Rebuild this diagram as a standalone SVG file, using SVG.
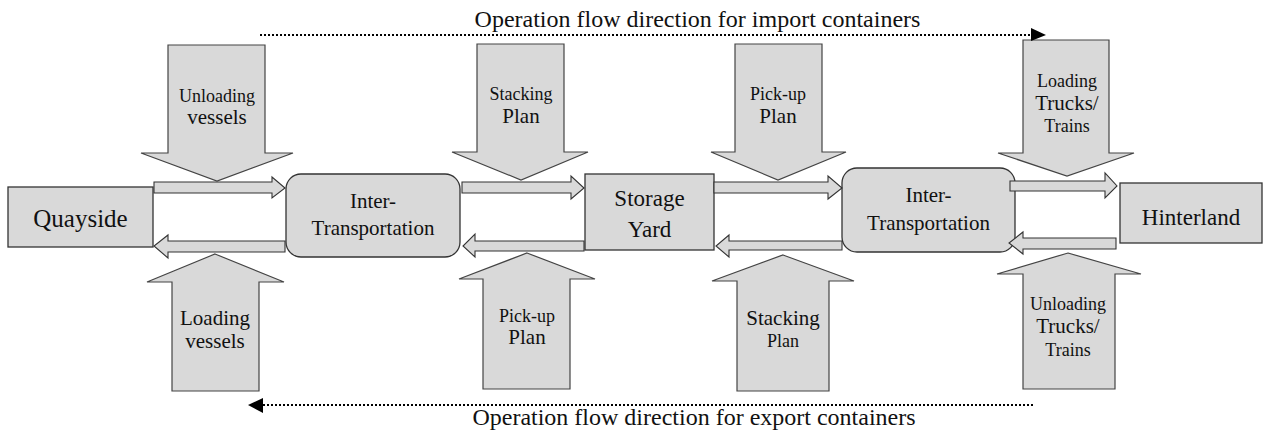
<svg xmlns="http://www.w3.org/2000/svg" width="1263" height="431" viewBox="0 0 1263 431" font-family="'Liberation Serif', 'Times New Roman', serif">
<style>
.box{fill:#d9d9d9;stroke:#333;stroke-width:1.3}
.blk{fill:#d9d9d9;stroke:#444;stroke-width:1.2;stroke-linejoin:miter}
.flow{fill:#d9d9d9;stroke:#333;stroke-width:1.1;stroke-linejoin:miter}
.dot{fill:none;stroke:#000;stroke-width:2;stroke-dasharray:2 2}
text{font-family:'Liberation Serif','Times New Roman',serif;fill:#111;text-anchor:middle}
.s{font-size:18px}
.m{font-size:21px}
.l{font-size:23px}
.t{font-size:24px}
</style>
<rect width="1263" height="431" fill="#fff"/>

<g id="quayside">
<rect class="box" x="8" y="187" width="145" height="60"/>
<text class="l" x="80.5" y="227" style="font-size:25px">Quayside</text>
</g>
<g id="inter1">
<rect class="box" x="286" y="174" width="174" height="83" rx="15"/>
<text class="m" x="373" y="208">Inter-</text>
<text class="m" x="373" y="235">Transportation</text>
</g>
<g id="storage">
<rect class="box" x="585" y="174" width="129" height="76"/>
<text class="l" x="649.5" y="206">Storage</text>
<text class="l" x="649.5" y="237">Yard</text>
</g>
<g id="inter2">
<rect class="box" x="842" y="168" width="173" height="84" rx="15"/>
<text class="m" x="928.5" y="202">Inter-</text>
<text class="m" x="928.5" y="230">Transportation</text>
</g>
<g id="hinterland">
<rect class="box" x="1120" y="183" width="142" height="60"/>
<text class="l" x="1191" y="225">Hinterland</text>
</g>

<g id="unloading-vessels">
<polygon class="blk" points="168,45 265,45 265,153 293,153 217,181 141,153 168,153"/>
<text class="s" x="217" y="102">Unloading</text>
<text class="m" x="217" y="124">vessels</text>
</g>
<g id="stacking-plan-top">
<polygon class="blk" points="477,44 564,44 564,152 588,152 521,180 452,152 477,152"/>
<text class="s" x="521" y="100">Stacking</text>
<text class="m" x="521" y="123">Plan</text>
</g>
<g id="pickup-plan-top">
<polygon class="blk" points="735,44 822,44 822,152 846,152 778,180 711,152 735,152"/>
<text class="s" x="778" y="100">Pick-up</text>
<text class="m" x="778" y="123">Plan</text>
</g>
<g id="loading-trucks">
<polygon class="blk" points="1023,40 1109,40 1109,153 1134,153 1067,176 998,153 1023,153"/>
<text class="s" x="1067" y="87">Loading</text>
<text class="m" x="1067" y="110">Trucks/</text>
<text class="s" x="1067" y="132">Trains</text>
</g>
<g id="loading-vessels">
<polygon class="blk" points="215,254 284,282 259,282 259,391 172,391 172,282 147,282"/>
<text class="m" x="215" y="325">Loading</text>
<text class="m" x="215" y="348">vessels</text>
</g>
<g id="pickup-plan-bottom">
<polygon class="blk" points="527,253 595,279 570,279 570,389 483,389 483,279 459,279"/>
<text class="s" x="527" y="322">Pick-up</text>
<text class="m" x="527" y="344">Plan</text>
</g>
<g id="stacking-plan-bottom">
<polygon class="blk" points="783,255 854,281 829,281 829,391 737,391 737,281 712,281"/>
<text class="m" x="783" y="325">Stacking</text>
<text class="s" x="783" y="347">Plan</text>
</g>
<g id="unloading-trucks">
<polygon class="blk" points="1068,253 1141,274 1115,274 1115,389 1023,389 1023,274 997,274"/>
<text class="s" x="1068" y="310">Unloading</text>
<text class="m" x="1068" y="333">Trucks/</text>
<text class="s" x="1068" y="356">Trains</text>
</g>

<g id="connectors">
<polygon class="flow" points="154,182 272,182 272,177 285,188 272,198 272,193 154,193"/>
<polygon class="flow" points="462,182 571,182 571,176 584,188 571,199 571,193 462,193"/>
<polygon class="flow" points="714,182 828,182 828,176 842,188 828,199 828,193 714,193"/>
<polygon class="flow" points="1010,181 1105,181 1105,173 1117,186 1105,198 1105,191 1010,191"/>
<polygon class="flow" points="285,241 168,241 168,235 154,246 168,258 168,252 285,252"/>
<polygon class="flow" points="584,241 475,241 475,234 463,246 475,257 475,251 584,251"/>
<polygon class="flow" points="842,241 729,241 729,235 716,246 729,257 729,250 842,250"/>
<polygon class="flow" points="1116,238 1023,238 1023,232 1009,243 1023,254 1023,249 1116,249"/>
<line class="dot" x1="260" y1="35" x2="1031" y2="35"/>
<polygon points="1031,28 1046,35 1031,41" fill="#000"/>
<line class="dot" x1="263" y1="405" x2="1033" y2="405"/>
<polygon points="263,398 248,405 263,413" fill="#000"/>
</g>

<g id="labels">
<text class="t" x="697.5" y="27">Operation flow direction for import containers</text>
<text class="t" x="694" y="425">Operation flow direction for export containers</text>
</g>
</svg>
